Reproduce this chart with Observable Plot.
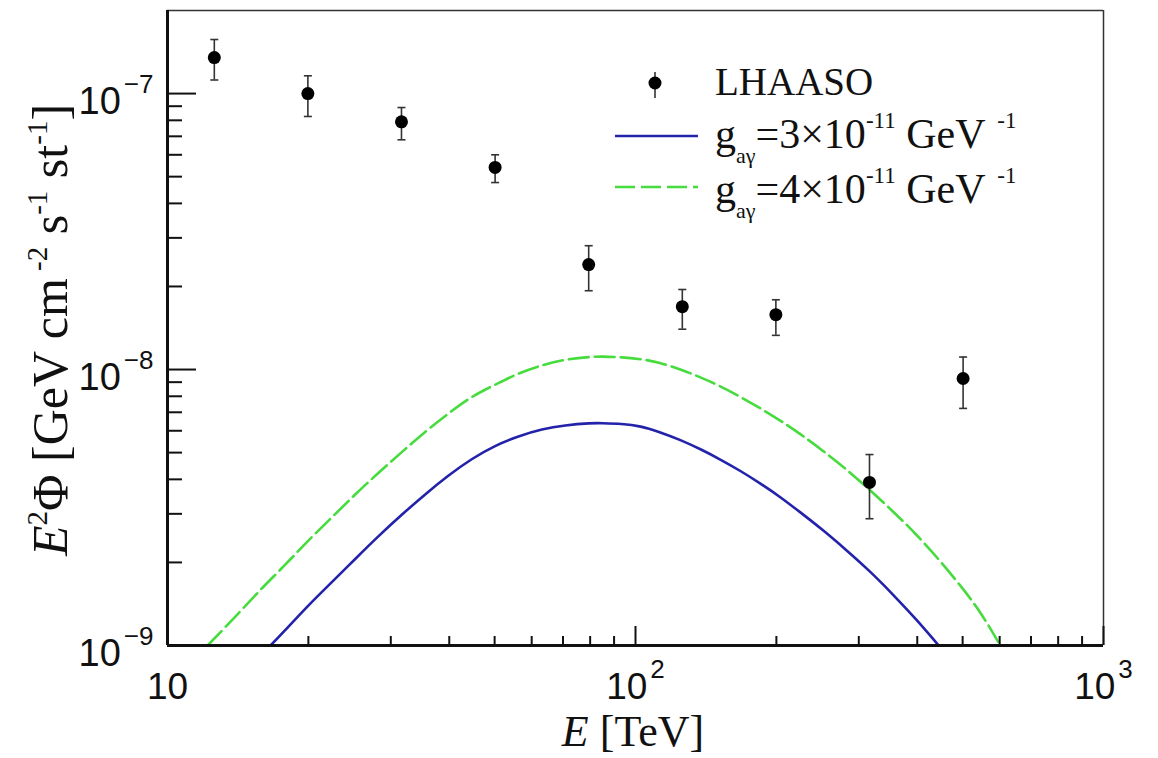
<!DOCTYPE html>
<html><head><meta charset="utf-8">
<script src="https://cdn.jsdelivr.net/npm/d3@7"></script>
<script src="https://cdn.jsdelivr.net/npm/@observablehq/plot@0.6"></script>
<style>body{margin:0;background:#fff}</style>
</head><body><div id="chart"></div>
<script>
// LHAASO data points
const energy = [12.59, 19.95, 31.62, 50.12, 79.43, 125.9, 199.5, 316.2, 501.2];
const flux   = [1.35e-7, 1.0e-7, 0.79e-7, 0.54e-7, 2.40e-8, 1.69e-8, 1.58e-8, 3.9e-9, 9.28e-9];
const fluxHi = [1.57e-7, 1.16e-7, 0.89e-7, 0.60e-7, 2.81e-8, 1.95e-8, 1.79e-8, 4.92e-9, 1.11e-8];
const fluxLo = [1.12e-7, 0.826e-7, 0.68e-7, 0.476e-7, 1.93e-8, 1.40e-8, 1.33e-8, 2.88e-9, 7.23e-9];

// model curve g = 3e-11 GeV^-1
const curveE3 = [16.60, 17.78, 19.95, 22.39, 25.12, 28.18, 31.62, 35.48, 39.81, 44.67, 50.12, 56.23, 63.10, 70.79, 79.43, 85.11, 93.33, 102.6, 112.2, 124.7, 138.0, 152.1, 167.9, 184.9, 204.2, 225.4, 251.2, 281.8, 316.2, 354.8, 398.1, 446.7];
const curveFlux3 = [1.00e-9, 1.13e-9, 1.39e-9, 1.69e-9, 2.05e-9, 2.48e-9, 2.97e-9, 3.52e-9, 4.12e-9, 4.73e-9, 5.28e-9, 5.72e-9, 6.06e-9, 6.27e-9, 6.38e-9, 6.39e-9, 6.35e-9, 6.21e-9, 5.94e-9, 5.55e-9, 5.13e-9, 4.71e-9, 4.28e-9, 3.86e-9, 3.44e-9, 3.03e-9, 2.62e-9, 2.22e-9, 1.86e-9, 1.53e-9, 1.24e-9, 0.99e-9];
// model curve g = 4e-11 GeV^-1
const curveE4 = [12.18, 14.13, 15.85, 17.78, 19.95, 22.39, 25.12, 28.18, 31.62, 35.48, 39.81, 44.67, 50.12, 56.23, 63.10, 70.79, 79.43, 85.11, 93.33, 102.6, 112.2, 124.7, 138.0, 152.1, 167.9, 184.9, 204.2, 225.4, 251.2, 281.8, 316.2, 354.8, 398.1, 446.7, 501.2, 549.5, 595.7];
const curveFlux4 = [1.00e-9, 1.30e-9, 1.60e-9, 1.95e-9, 2.39e-9, 2.90e-9, 3.51e-9, 4.21e-9, 5.01e-9, 5.93e-9, 6.92e-9, 7.94e-9, 8.81e-9, 9.66e-9, 1.035e-8, 1.084e-8, 1.109e-8, 1.114e-8, 1.107e-8, 1.089e-8, 1.059e-8, 1.0e-8, 9.35e-9, 8.67e-9, 7.94e-9, 7.23e-9, 6.52e-9, 5.82e-9, 5.08e-9, 4.35e-9, 3.67e-9, 3.06e-9, 2.52e-9, 2.03e-9, 1.60e-9, 1.29e-9, 1.03e-9];

// ticks
const xMajor = [10, 100, 1000];
const xMinor = [20, 30, 40, 50, 60, 70, 80, 90, 200, 300, 400, 500, 600, 700, 800, 900];
const yMajor = [1e-9, 1e-8, 1e-7];
const yMinor = [2e-9,3e-9,4e-9,5e-9,6e-9,7e-9,8e-9,9e-9,2e-8,3e-8,4e-8,5e-8,6e-8,7e-8,8e-8,9e-8];

const legendLabels = ["LHAASO", "=3×10", "=4×10"];

const points = energy.map((e, i) => ({E: e, v: flux[i], hi: fluxHi[i], lo: fluxLo[i]}));
const c3 = curveE3.map((e, i) => ({E: e, v: curveFlux3[i]}));
const c4 = curveE4.map((e, i) => ({E: e, v: curveFlux4[i]}));

const capSymbol = {draw(ctx, size) { const w = Math.sqrt(size / Math.PI); ctx.moveTo(-w, 0); ctx.lineTo(w, 0); }};
const BLUE = "#2222aa", GREEN = "#47dc3e";
const TICK = {strokeWidth: 2, label: null};

const chart = Plot.plot({
  width: 1158, height: 758,
  marginLeft: 167, marginRight: 55, marginTop: 10, marginBottom: 113,
  x: {type: "log", domain: [10, 1000]},
  y: {type: "log", domain: [1e-9, 2e-7]},
  style: {background: "white", fontFamily: "'Liberation Sans', Arial, sans-serif", color: "#111"},
  marks: [
    Plot.line(c3, {x: "E", y: "v", stroke: BLUE, strokeWidth: 2.6, curve: "natural", clip: true}),
    Plot.line(c4, {x: "E", y: "v", stroke: GREEN, strokeWidth: 2.6, strokeDasharray: "20,6", curve: "natural", clip: true}),
    Plot.ruleX(points, {x: "E", y1: "lo", y2: "hi", stroke: "#333", strokeWidth: 1.6}),
    Plot.dot(points, {x: "E", y: "hi", symbol: capSymbol, r: 4, stroke: "#333", strokeWidth: 1.6}),
    Plot.dot(points, {x: "E", y: "lo", symbol: capSymbol, r: 4, stroke: "#333", strokeWidth: 1.6}),
    Plot.dot(points, {x: "E", y: "v", r: 6.5, fill: "#000", stroke: "none"}),
    Plot.ruleX([1000], {stroke: "#333", strokeWidth: 1.5}),
    Plot.ruleY([2e-7], {stroke: "#333", strokeWidth: 1.5}),
    Plot.ruleX([10], {stroke: "#111", strokeWidth: 3}),
    Plot.ruleY([1e-9], {stroke: "#111", strokeWidth: 3}),
    // inward ticks
    Plot.axisX(xMajor, {...TICK, anchor: "bottom", tickSize: -19, tickFormat: () => ""}),
    Plot.axisX(xMinor, {...TICK, anchor: "bottom", tickSize: -9, tickFormat: () => ""}),
    Plot.axisY(yMajor, {...TICK, anchor: "left", tickSize: -29, tickFormat: () => ""}),
    Plot.axisY(yMinor, {...TICK, anchor: "left", tickSize: -15, tickFormat: () => ""}),
    // tick labels
    Plot.axisX(xMajor, {anchor: "bottom", tickSize: 0, tickPadding: 27, fontSize: 37, label: null,
      tickFormat: d => d === 10 ? "10" : "10^" + Math.round(Math.log10(d))}),
    Plot.axisY(yMajor, {anchor: "left", tickSize: 0, tickPadding: 14, fontSize: 38, dy: 8, label: null,
      tickFormat: d => "10^\u2212" + (-Math.round(Math.log10(d)))})
  ]
});
document.getElementById("chart").appendChild(chart);

const svg = d3.select(chart);
// superscripts in tick labels
svg.selectAll("text").each(function() {
  const t = this.textContent;
  if (!t.includes("^")) return;
  const [base, exp] = t.split("^");
  const sel = d3.select(this);
  sel.text(null);
  sel.append("tspan").text(base);
  sel.append("tspan").attr("font-size", 26).attr("dx", 3).attr("dy", -21).text(exp);
});

const serif = "'Liberation Serif', 'Times New Roman', serif";
// x title
const xt = svg.append("text").attr("x", 633).attr("y", 746).attr("text-anchor", "middle")
  .attr("font-family", serif).attr("font-size", 44).attr("fill", "#111");
xt.append("tspan").attr("font-style", "italic").text("E");
xt.append("tspan").text(" [TeV]");

// y title
const yt = svg.append("text").attr("transform", "translate(67,330) rotate(-90)").attr("text-anchor", "middle")
  .attr("font-family", serif).attr("font-size", 50).attr("fill", "#111");
yt.append("tspan").attr("font-style", "italic").text("E");
yt.append("tspan").attr("font-size", 29).attr("dy", -20).text("2");
yt.append("tspan").attr("dy", 20).text("Φ [GeV cm");
yt.append("tspan").attr("font-size", 29).attr("dy", -20).text(" -2");
yt.append("tspan").attr("dy", 20).text(" s");
yt.append("tspan").attr("font-size", 29).attr("dy", -20).text("-1");
yt.append("tspan").attr("dy", 20).text(" st");
yt.append("tspan").attr("font-size", 29).attr("dy", -20).text("-1");
yt.append("tspan").attr("dy", 20).text("]");

// legend
const lg = svg.append("g").attr("font-family", serif).attr("fill", "#111").attr("text-anchor", "start");
lg.append("line").attr("x1", 655).attr("x2", 655).attr("y1", 72).attr("y2", 98).attr("stroke", "#333").attr("stroke-width", 1.6);
lg.append("circle").attr("cx", 655).attr("cy", 83).attr("r", 6.5).attr("fill", "#000");
lg.append("text").attr("x", 715).attr("y", 95).attr("font-size", 39).text(legendLabels[0]);
lg.append("line").attr("x1", 615).attr("x2", 698).attr("y1", 136).attr("y2", 136).attr("stroke", BLUE).attr("stroke-width", 2.6);
lg.append("line").attr("x1", 615).attr("x2", 698).attr("y1", 187).attr("y2", 187).attr("stroke", GREEN).attr("stroke-width", 2.6).attr("stroke-dasharray", "20,6");
[[148, legendLabels[1]], [203, legendLabels[2]]].forEach(([y, lab]) => {
  const t = lg.append("text").attr("x", 715).attr("y", y).attr("font-size", 42);
  t.append("tspan").text("g");
  t.append("tspan").attr("font-size", 22).attr("dy", 15).text("aγ");
  t.append("tspan").attr("dy", -15).text(lab);
  t.append("tspan").attr("font-size", 23).attr("dy", -20).text("-11");
  t.append("tspan").attr("dy", 20).text(" GeV");
  t.append("tspan").attr("font-size", 23).attr("dx", 6).attr("dy", -20).text(" -1");
});
</script></body></html>
